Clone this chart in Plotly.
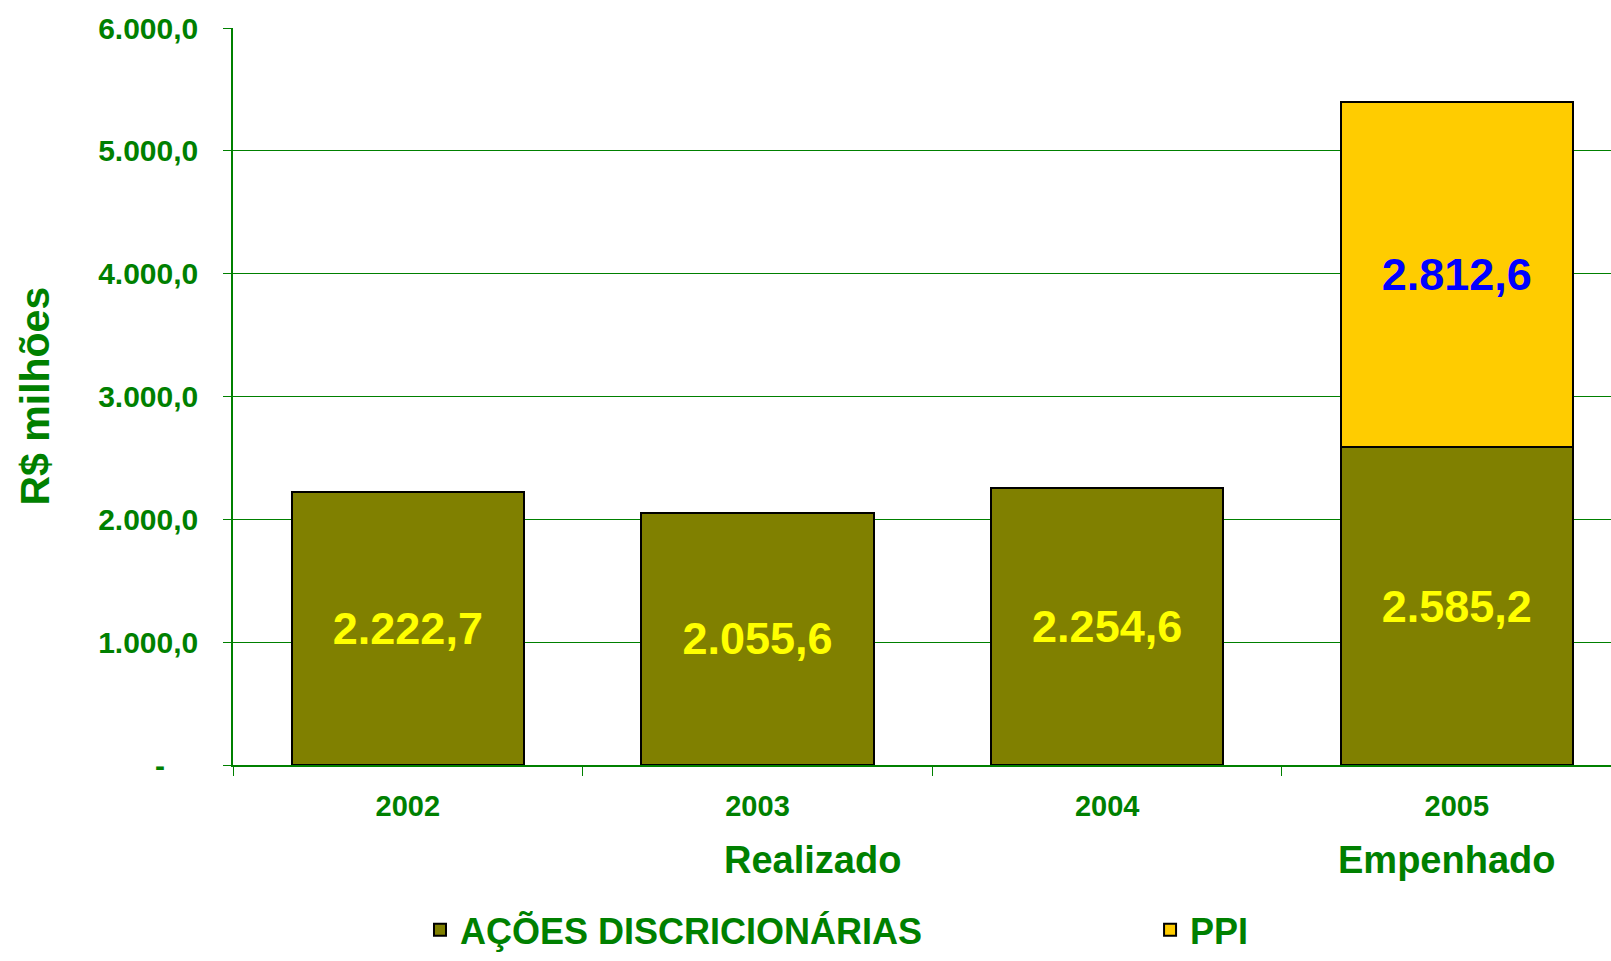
import plotly.graph_objects as go

years = ["2002", "2003", "2004", "2005"]
acoes = [2222.7, 2055.6, 2254.6, 2585.2]
ppi = [None, None, None, 2812.6]
y_tickvals = [0, 1000, 2000, 3000, 4000, 5000, 6000]
y_ticktext = ["-\u00a0\u00a0\u00a0\u00a0", "1.000,0", "2.000,0", "3.000,0", "4.000,0", "5.000,0", "6.000,0"]
series_names = ["AÇÕES DISCRICIONÁRIAS", "PPI"]
group_labels = ["Realizado", "Empenhado"]

GREEN = "#008000"
FONT = "Liberation Sans, Arial, sans-serif"

fig = go.Figure()
fig.add_trace(go.Bar(
    x=years, y=acoes, name=series_names[0], legend="legend",
    marker=dict(color="#808000", line=dict(color="black", width=2)),
    texttemplate="%{y:,.1f}", textposition="inside", insidetextanchor="middle",
    textangle=0, constraintext="none",
    insidetextfont=dict(family=FONT, size=45, color="#FFFF00", weight="bold"),
))
fig.add_trace(go.Bar(
    x=years, y=ppi, name=series_names[1], legend="legend2",
    marker=dict(color="#FFCC00", line=dict(color="black", width=2)),
    texttemplate="%{y:,.1f}", textposition="inside", insidetextanchor="middle",
    textangle=0, constraintext="none",
    insidetextfont=dict(family=FONT, size=45, color="#0000FF", weight="bold"),
))

legend_font = dict(family=FONT, size=36, color=GREEN, weight="bold")

fig.update_layout(
    width=1611, height=961,
    barmode="stack", bargap=0.335,
    separators=",.",
    plot_bgcolor="white", paper_bgcolor="white",
    margin=dict(l=233, r=0, t=27.7, b=195.5, autoexpand=False),
    font=dict(family=FONT, color=GREEN, weight="bold"),
    xaxis=dict(
        range=[-0.5, 3.441], showgrid=False,
        showline=True, linecolor=GREEN, linewidth=1.5,
        ticks="outside", tickson="boundaries", ticklen=9, tickcolor=GREEN, tickwidth=1,
        tickfont=dict(family=FONT, size=29, color=GREEN, weight="bold"),
        ticklabelstandoff=14,
    ),
    yaxis=dict(
        range=[0, 6000], tickvals=y_tickvals, ticktext=y_ticktext,
        showgrid=True, gridcolor=GREEN, gridwidth=1,
        showline=True, linecolor=GREEN, linewidth=1.5,
        ticks="outside", ticklen=8, tickcolor=GREEN,
        tickfont=dict(family=FONT, size=30, color=GREEN, weight="bold"),
        ticklabelstandoff=19, zeroline=False,
    ),
    showlegend=True,
    legend=dict(
        orientation="h", x=0.1357, xanchor="left", y=-0.2645, yanchor="bottom",
        font=legend_font, bgcolor="rgba(0,0,0,0)",
    ),
    legend2=dict(
        orientation="h", x=0.6655, xanchor="left", y=-0.2645, yanchor="bottom",
        font=legend_font, bgcolor="rgba(0,0,0,0)",
    ),
    annotations=[
        dict(text="R$ milhões", textangle=-90, x=-0.1444, y=0.5, xref="paper", yref="paper",
             xanchor="center", yanchor="middle",
             showarrow=False, font=dict(family=FONT, size=41, color=GREEN, weight="bold")),
        dict(text=group_labels[0], x=0.4202, y=-0.1294, xref="paper", yref="paper",
             xanchor="center", yanchor="middle",
             showarrow=False, font=dict(family=FONT, size=38, color=GREEN, weight="bold")),
        dict(text=group_labels[1], x=0.8803, y=-0.1294, xref="paper", yref="paper",
             xanchor="center", yanchor="middle",
             showarrow=False, font=dict(family=FONT, size=38, color=GREEN, weight="bold")),
    ],
)

fig.write_html("out.html", config={"displayModeBar": False},
               post_script="document.body.style.margin='0';")
